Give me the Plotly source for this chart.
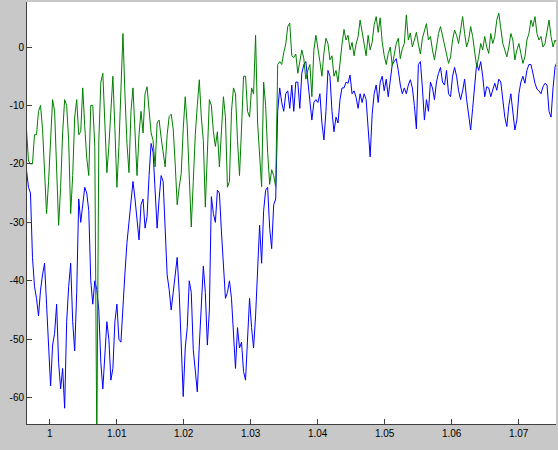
import numpy as np
import plotly.graph_objects as go

# sample times (uniform acquisition grid)
t_start = 0.99653
t_step = 0.0003
n_samples = 265
t = t_start + t_step * np.arange(n_samples)

blue = [
    -21, -24, -25, -36, -41, -43, -46, -41.6, -39, -37,
    -44, -52, -58, -51, -49, -44, -54, -58.5, -55, -61.8,
    -47, -41, -37, -47, -52, -42, -26, -30, -27, -24,
    -25, -28, -40, -44, -40, -41.5, -45, -54, -58.5, -53,
    -47, -50, -57, -55, -47, -44, -50, -50.5, -44, -38.7,
    -33.5, -30, -26, -23, -26, -30, -33, -27, -26, -31,
    -29, -22, -16.5, -18, -25, -31, -26, -22, -23, -32,
    -39, -41.5, -45, -42, -38.5, -36, -42, -50, -59.8, -51.5,
    -48, -40, -42, -51.8, -55.5, -59, -51, -44, -37.5, -42,
    -51, -45, -25.6, -28.5, -30, -24.5, -25, -31.5, -38, -43,
    -42, -40, -43, -49.5, -55, -48, -51.5, -50.5, -55.5, -57,
    -50, -43, -48, -51.5, -46, -37, -30.5, -37, -28, -24.5,
    -24, -31, -34.5, -27, -26, -11, -7, -9.5, -11, -8,
    -7.5, -10.5, -6.5, -11, -6, -6, -10.5, -4.5, -3, -2.5,
    -5.5, -9.5, -12.5, -9.5, -9, -9.5, -8, -13, -15.9, -11,
    -4, -5, -11, -14.5, -12, -13, -9, -7, -7, -6,
    -6.2, -4.8, -8, -7.5, -8.6, -10.5, -8, -9.5, -8, -9,
    -13.6, -18.8, -11.5, -8, -6.5, -9.5, -6, -5, -7.5, -5.5,
    -8.5, -6, -3, -2.5, -2, -4, -6.5, -8, -7, -8,
    -6.5, -5.6, -7, -10, -14, -3, -2.5, -7, -12.5, -9,
    -11, -6, -7, -9, -6, -4.5, -3.5, -6, -6.5, -4,
    -8, -8.5, -5, -3.5, -5, -7.5, -9, -7.5, -5.5, -9,
    -11.5, -14.2, -10.5, -6, -2.8, -4, -2.5, -5, -8.5, -6.8,
    -7, -8.5, -7.5, -6.2, -7.4, -5.5, -6, -9.5, -12, -13.6,
    -10, -8, -11, -14.2, -12.5, -8, -6, -5, -6.2, -4,
    -3, -3, -4.5, -6.2, -7.2, -7.5, -8, -6.8, -6.2, -6.5,
    -11, -12, -7, -3.4, -2.5,
]

green = [
    -14, -19.5, -20, -20, -15, -15, -11, -10, -14, -21,
    -28.5, -23, -17, -9, -11, -20.5, -30.5, -24, -14.7, -9,
    -10, -16, -28.5, -22, -12, -9, -15, -14.5, -7, -13.6,
    -19, -22, -10, -10, -17, -68, -16, -6, -4.5, -13,
    -21.5, -17, -10, -5, -14, -24, -17, -6, 2.3, -8,
    -16.5, -21.5, -11, -7, -14, -22, -15, -11, -14.7, -8,
    -6.8, -11, -14.7, -16, -20.5, -13, -12.5, -15.5, -18, -20.5,
    -15, -11.9, -11.5, -14, -20, -27, -24, -21.6, -14, -8.5,
    -13.5, -22, -30.8, -23, -15, -10, -5.6, -12, -16, -27.4,
    -18, -9, -10, -14.5, -17, -14.5, -20.5, -15, -8.5, -12,
    -24, -23, -11, -7, -8, -16, -22, -14, -5, -5,
    -11, -12, -7, -8, 2, -13, -19, -23.9, -6, -10,
    -18, -23.5, -21, -22, -23.9, -3, -2.5, -3, -1, 0.5,
    3.5, 4.1, -1.5, -1.8, -1.2, -4.5, -2.5, -0.5, -2, -5.5,
    -4, -3, -8.5, -0.5, 2, 0, -2.5, -5, -1, 1.5,
    0.6, -2.2, -1.5, -5, -4, -6, -2.2, 0.5, 3, 1.2,
    2, -0.5, 0.8, -1.5, 0.5, 1.8, 4.6, 2.5, 0, -1.5,
    2, -0.5, 0.8, 3.8, 5.2, 2.5, 5, 0.8, -1.5, -3,
    -1.1, 0, -3.2, -1.5, 0.6, 1.5, -2, -0.3, 0.6, 5.5,
    1.2, 2.4, 0, 1.2, 2.5, 0.5, -1.2, 1.5, 2.6, 4,
    1.2, 1.8, -0.5, -2.2, 0, 2.3, 3.5, 1.8, 0.6, -1,
    -2.8, -1.7, 1.2, 2.9, 2, 0.6, 2.6, 5.2, 2.3, 0,
    1.2, 3.5, 1.8, -0.5, -3.4, -1.7, 0.6, -0.5, 1.8, 0,
    -1.1, 2.3, 0.6, 1.8, 4.6, 5.8, 2.9, 0.6, -0.5, -1.7,
    0, 2.3, 1.2, -2.2, -0.5, 0.6, -1.1, -2.8, -1.7, 1.2,
    2.3, 4.6, 3.5, 5.2, 2.3, 1.2, 1.8, 0, 0.6, 2.9,
    4.6, 1.8, 0, 1.2, 0.6,
]

x_tickvals = [1.00, 1.01, 1.02, 1.03, 1.04, 1.05, 1.06, 1.07]
x_ticktext = ["1", "1.01", "1.02", "1.03", "1.04", "1.05", "1.06", "1.07"]
y_tickvals = [0, -10, -20, -30, -40, -50, -60]
y_ticktext = ["0", "-10", "-20", "-30", "-40", "-50", "-60"]

fig = go.Figure()
fig.add_trace(go.Scatter(x=t, y=blue, mode="lines",
                         line=dict(color="#0000ff", width=1), showlegend=False))
fig.add_trace(go.Scatter(x=t, y=green, mode="lines",
                         line=dict(color="#008000", width=1), showlegend=False))

fig.update_layout(
    width=558, height=450,
    margin=dict(l=27, r=2, t=2, b=26, pad=0),
    paper_bgcolor="#c8c8c8",
    plot_bgcolor="#ffffff",
    font=dict(family="Liberation Sans, Arial, sans-serif", size=10, color="#000000"),
    xaxis=dict(range=[0.99661, 1.07557], tickvals=x_tickvals, ticktext=x_ticktext,
               showgrid=False, zeroline=False, showline=True, linecolor="#404040",
               linewidth=1, ticks="inside", ticklen=5, tickcolor="#404040"),
    yaxis=dict(range=[-64.5, 7.7], tickvals=y_tickvals, ticktext=y_ticktext,
               showgrid=False, zeroline=False, showline=True, linecolor="#404040",
               linewidth=1, ticks="inside", ticklen=5, tickcolor="#404040"),
)

fig.write_html(
    "out.html",
    config={"displayModeBar": False},
    post_script="document.body.style.margin='0px';document.body.style.padding='0px';",
)
